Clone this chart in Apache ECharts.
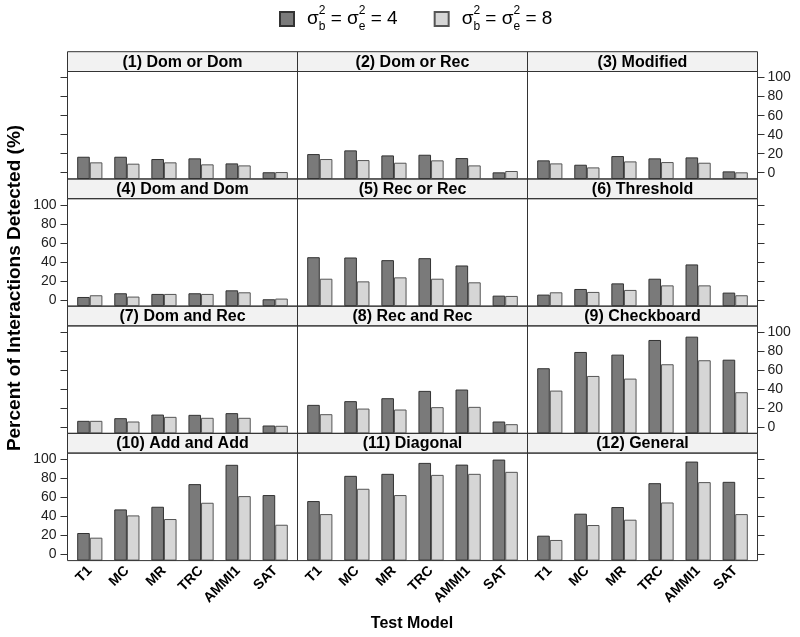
<!DOCTYPE html>
<html>
<head>
<meta charset="utf-8">
<script src="https://cdn.jsdelivr.net/npm/echarts@6/dist/echarts.min.js"></script>
<style>html,body{margin:0;padding:0;background:#fff}#c{width:800px;height:637px}</style>
</head>
<body>
<div id="c"></div>
<script>
const categories = ['T1', 'MC', 'MR', 'TRC', 'AMMI1', 'SAT'];
const panelTitles = ['(1) Dom or Dom', '(2) Dom or Rec', '(3) Modified',
  '(4) Dom and Dom', '(5) Rec or Rec', '(6) Threshold',
  '(7) Dom and Rec', '(8) Rec and Rec', '(9) Checkboard',
  '(10) Add and Add', '(11) Diagonal', '(12) General'];
const yTicks = [0, 20, 40, 60, 80, 100];

// sigma_b^2 = sigma_e^2 = 4 (dark) and = 8 (light)
const dark1 = [16.8, 16.8, 14.4, 15.1, 9.8, 0.5];
const light1 = [10.9, 9.5, 10.9, 8.8, 7.7, 0.7];
const dark2 = [19.6, 23.5, 18.2, 18.9, 15.4, 0.4];
const light2 = [14.4, 13.3, 10.5, 13.0, 7.7, 1.8];
const dark3 = [13.0, 8.4, 17.5, 15.1, 16.1, 1.4];
const light3 = [9.8, 5.6, 11.9, 11.2, 10.5, 0.4];
const dark4 = [3.1, 7.0, 6.3, 7.0, 10.1, 0.7];
const light4 = [4.9, 3.5, 6.3, 6.3, 8.0, 1.4];
const dark5 = [44.9, 44.6, 41.8, 43.9, 36.2, 4.5];
const light5 = [22.3, 19.5, 23.7, 22.3, 18.5, 4.2];
const dark6 = [5.6, 11.5, 17.4, 22.3, 37.3, 7.7];
const light6 = [8.0, 8.4, 10.5, 15.3, 15.3, 4.9];
const dark7 = [6.6, 9.4, 13.2, 12.9, 14.7, 1.7];
const light7 = [6.6, 5.9, 10.8, 9.8, 9.8, 1.4];
const dark8 = [23.4, 27.3, 30.4, 38.1, 39.5, 5.9];
const light8 = [13.6, 19.5, 18.5, 21.0, 21.3, 3.1];
const dark9 = [61.9, 79.0, 76.2, 91.6, 95.1, 70.9];
const light9 = [38.4, 53.8, 51.0, 66.1, 70.3, 36.7];
const dark10 = [22.4, 47.2, 50.0, 73.8, 94.1, 62.3];
const light10 = [17.5, 40.9, 37.1, 54.2, 61.2, 31.1];
const dark11 = [56.0, 82.5, 84.6, 96.1, 94.3, 99.6];
const light11 = [42.3, 68.9, 62.3, 83.5, 84.6, 86.7];
const dark12 = [19.6, 42.7, 49.7, 74.8, 97.5, 76.2];
const light12 = [15.1, 30.8, 36.4, 54.5, 75.9, 42.3];

const darkAll = [dark1, dark2, dark3, dark4, dark5, dark6, dark7, dark8, dark9, dark10, dark11, dark12];
const lightAll = [light1, light2, light3, light4, light5, light6, light7, light8, light9, light10, light11, light12];

const FONT = 'Liberation Sans, Arial, Helvetica, sans-serif';
const colX = [67.5, 297.5, 527.5];
const colW = 230;
const stripTop = [51.7, 178.9, 306.1, 433.3];
const stripH = 19.8;
const panelH = 107.5;
const inset = 3.75;
const DARK = '#7a7a7a', LIGHT = '#d6d6d6', EDGE = '#333333';

const grid = [], xAxis = [], yAxis = [], series = [], graphic = [];
for (let i = 0; i < 12; i++) {
  const r = Math.floor(i / 3), c = i % 3;
  const pTop = stripTop[r] + stripH;
  grid.push({ left: colX[c] + inset, top: pTop, width: colW - 2 * inset, height: panelH, containLabel: false });
  xAxis.push({
    type: 'category', gridIndex: i, data: categories, boundaryGap: true,
    axisLine: { show: false }, axisTick: { show: false }, splitLine: { show: false },
    axisLabel: { show: r === 3, rotate: 45, interval: 0, margin: 8, fontFamily: FONT, fontWeight: 'bold', fontSize: 14, color: '#000' }
  });
  const showLabel = (c === 0 && r % 2 === 1) || (c === 2 && r % 2 === 0);
  yAxis.push({
    type: 'value', gridIndex: i, min: -6.6, max: 106.4, startValue: -6.6,
    position: c === 2 ? 'right' : 'left', offset: inset,
    show: c !== 1,
    axisLine: { show: false }, splitLine: { show: false },
    axisTick: { show: true, length: 7, customValues: yTicks, lineStyle: { color: EDGE } },
    axisLabel: { show: showLabel, customValues: yTicks, margin: c === 2 ? 10 : 11, fontFamily: FONT, fontSize: 14, color: '#222' }
  });
  series.push({
    type: 'bar', name: 'v4', xAxisIndex: i, yAxisIndex: i, data: darkAll[i],
    barWidth: 12.6, barGap: '0%',
    itemStyle: { color: DARK, borderColor: EDGE, borderWidth: 1 }
  });
  series.push({
    type: 'bar', name: 'v8', xAxisIndex: i, yAxisIndex: i, data: lightAll[i],
    barWidth: 12.6, barGap: '0%',
    itemStyle: { color: LIGHT, borderColor: '#555555', borderWidth: 1 }
  });
  graphic.push({
    type: 'rect', z: 1, shape: { x: colX[c], y: stripTop[r], width: colW, height: stripH },
    style: { fill: '#f2f2f2', stroke: EDGE, lineWidth: 1 }
  });
  graphic.push({
    type: 'text', z: 5, x: colX[c] + colW / 2, y: stripTop[r] + stripH / 2 + 0.5,
    style: { text: panelTitles[i], font: 'bold 16px ' + FONT, fill: '#000', textAlign: 'center', textVerticalAlign: 'middle', align: 'center', verticalAlign: 'middle' }
  });
  graphic.push({
    type: 'rect', z: 100, shape: { x: colX[c], y: pTop, width: colW, height: panelH },
    style: { fill: 'none', stroke: EDGE, lineWidth: 1 }
  });
}
graphic.push({
  type: 'text', z: 5, x: 15, y: 288, rotation: Math.PI / 2,
  style: { text: 'Percent of Interactions Detected (%)', font: 'bold 19px ' + FONT, fill: '#000', textAlign: 'center', textVerticalAlign: 'middle', align: 'center', verticalAlign: 'middle' }
});
graphic.push({
  type: 'text', z: 5, x: 412, y: 624,
  style: { text: 'Test Model', font: 'bold 16px ' + FONT, fill: '#000', textAlign: 'center', textVerticalAlign: 'middle', align: 'center', verticalAlign: 'middle' }
});

const chart = echarts.init(document.getElementById('c'), null, { renderer: 'canvas' });
chart.setOption({
  animation: false,
  backgroundColor: '#fff',
  textStyle: { fontFamily: FONT },
  legend: {
    top: 5, left: 279, padding: 0, itemWidth: 14, itemHeight: 14, itemGap: 36, icon: 'rect',
    data: ['v4', 'v8'],
    formatter: n => '{pad|}{m|σ}{sup|2}{sub|b}{m| = σ}{sup|2}{sub|e}{m| = ' + (n === 'v4' ? '4' : '8') + '}',
    textStyle: {
      rich: {
        pad: { width: 8 },
        m: { fontFamily: FONT, fontSize: 19, lineHeight: 28, color: '#000' },
        sup: { fontFamily: FONT, fontSize: 12, lineHeight: 14, width: 0, verticalAlign: 'top', color: '#000' },
        sub: { fontFamily: FONT, fontSize: 12, lineHeight: 12, verticalAlign: 'bottom', color: '#000' }
      }
    }
  },
  grid, xAxis, yAxis, series, graphic
});
</script>
</body>
</html>
